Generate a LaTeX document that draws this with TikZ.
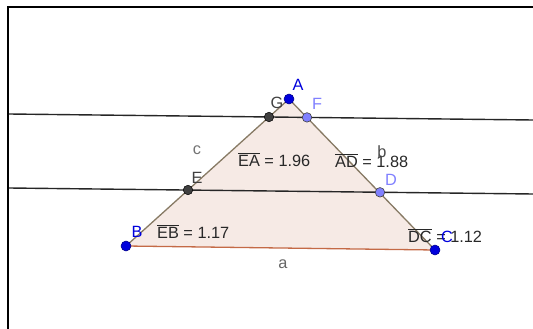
\documentclass[tikz,border=0pt]{standalone}
\usepackage{fontspec}
\setmainfont{Liberation Sans}
\definecolor{trifill}{RGB}{246,234,229}
\definecolor{sidecol}{RGB}{135,122,100}
\definecolor{basecol}{RGB}{196,106,70}
\definecolor{ptblue}{RGB}{0,0,220}
\definecolor{ptlight}{RGB}{128,128,255}
\definecolor{ptdark}{RGB}{64,64,64}
\definecolor{txtdark}{RGB}{40,40,40}
\begin{document}
\begin{tikzpicture}[x=1pt,y=-1pt,font=\fontsize{16.3}{19}\selectfont,
  frame/.style={line width=2pt,black},
  pline/.style={line width=1.4pt,black!85},
  sideline/.style={line width=1.3pt,sidecol},
  baseline/.style={line width=1.3pt,basecol},
  bluept/.style={circle,fill=ptblue,draw=ptblue!60!black,line width=0.5pt,inner sep=0pt,minimum size=10pt},
  darkpt/.style={circle,fill=ptdark,draw=black,line width=0.5pt,inner sep=0pt,minimum size=9.5pt},
  lightpt/.style={circle,fill=ptlight,draw=ptdark,line width=0.6pt,inner sep=0pt,minimum size=9.5pt},
  lbl/.style={anchor=base,inner sep=0pt},
  meas/.style={anchor=base west,inner sep=0pt,text=txtdark}]
\useasboundingbox (0,0) rectangle (533,329);
% frame
\coordinate (fBL) at (8,329);
\coordinate (fTL) at (8,7);
\coordinate (fTR) at (533,7);
\draw[frame] (fBL) -- (fTL) -- (fTR);
% points
\coordinate (A) at (289,99);
\coordinate (B) at (126,246);
\coordinate (C) at (435,250);
\coordinate (G) at (269,117);
\coordinate (F) at (307,117.4);
\coordinate (E) at (188,190);
\coordinate (D) at (380,192.3);
% line end points
\coordinate (L1a) at (9,114);
\coordinate (L1b) at (533,120);
\coordinate (L2a) at (9,188);
\coordinate (L2b) at (533,194);
% triangle
\fill[trifill] (B) -- (A) -- (C) -- cycle;
\draw[pline] (L1a) -- (L1b);
\draw[pline] (L2a) -- (L2b);
\draw[sideline] (A) -- (B);
\draw[sideline] (A) -- (C);
\draw[baseline] (B) -- (C);
% dots
\node[darkpt] (pG) at (G) {};
\node[darkpt] (pE) at (E) {};
\node[lightpt] (pF) at (F) {};
\node[lightpt] (pD) at (D) {};
\node[bluept] (pA) at (A) {};
\node[bluept] (pB) at (B) {};
\node[bluept] (pC) at (C) {};
% measurements
\node[meas] (mEA) at (238,166) {$\overline{\mbox{EA}}$ = 1.96};
\node[meas] (mAD) at (335,167) {$\overline{\mbox{AD}}$ = 1.88};
\node[meas] (mEB) at (157,238) {$\overline{\mbox{EB}}$ = 1.17};
\node[meas] (mDC) at (408,242) {$\overline{\mbox{DC}}$ = 1.12};
% labels
\node[lbl,text=ptblue] (lA) at (298,91) {A};
\node[lbl,text=ptblue] (lB) at (137,237) {B};
\node[lbl,text=ptblue] (lC) at (447,242) {C};
\node[lbl,text=ptdark] (lG) at (277,108) {G};
\node[lbl,text=ptlight] (lF) at (317,110) {F};
\node[lbl,text=ptdark] (lE) at (197,183) {E};
\node[lbl,text=ptlight] (lD) at (391,185) {D};
\node[lbl,text=black!55] (lc) at (197,154) {c};
\node[lbl,text=black!70] (lb) at (382,157) {b};
\node[lbl,text=black!60] (la) at (283,268) {a};
\end{tikzpicture}
\end{document}
